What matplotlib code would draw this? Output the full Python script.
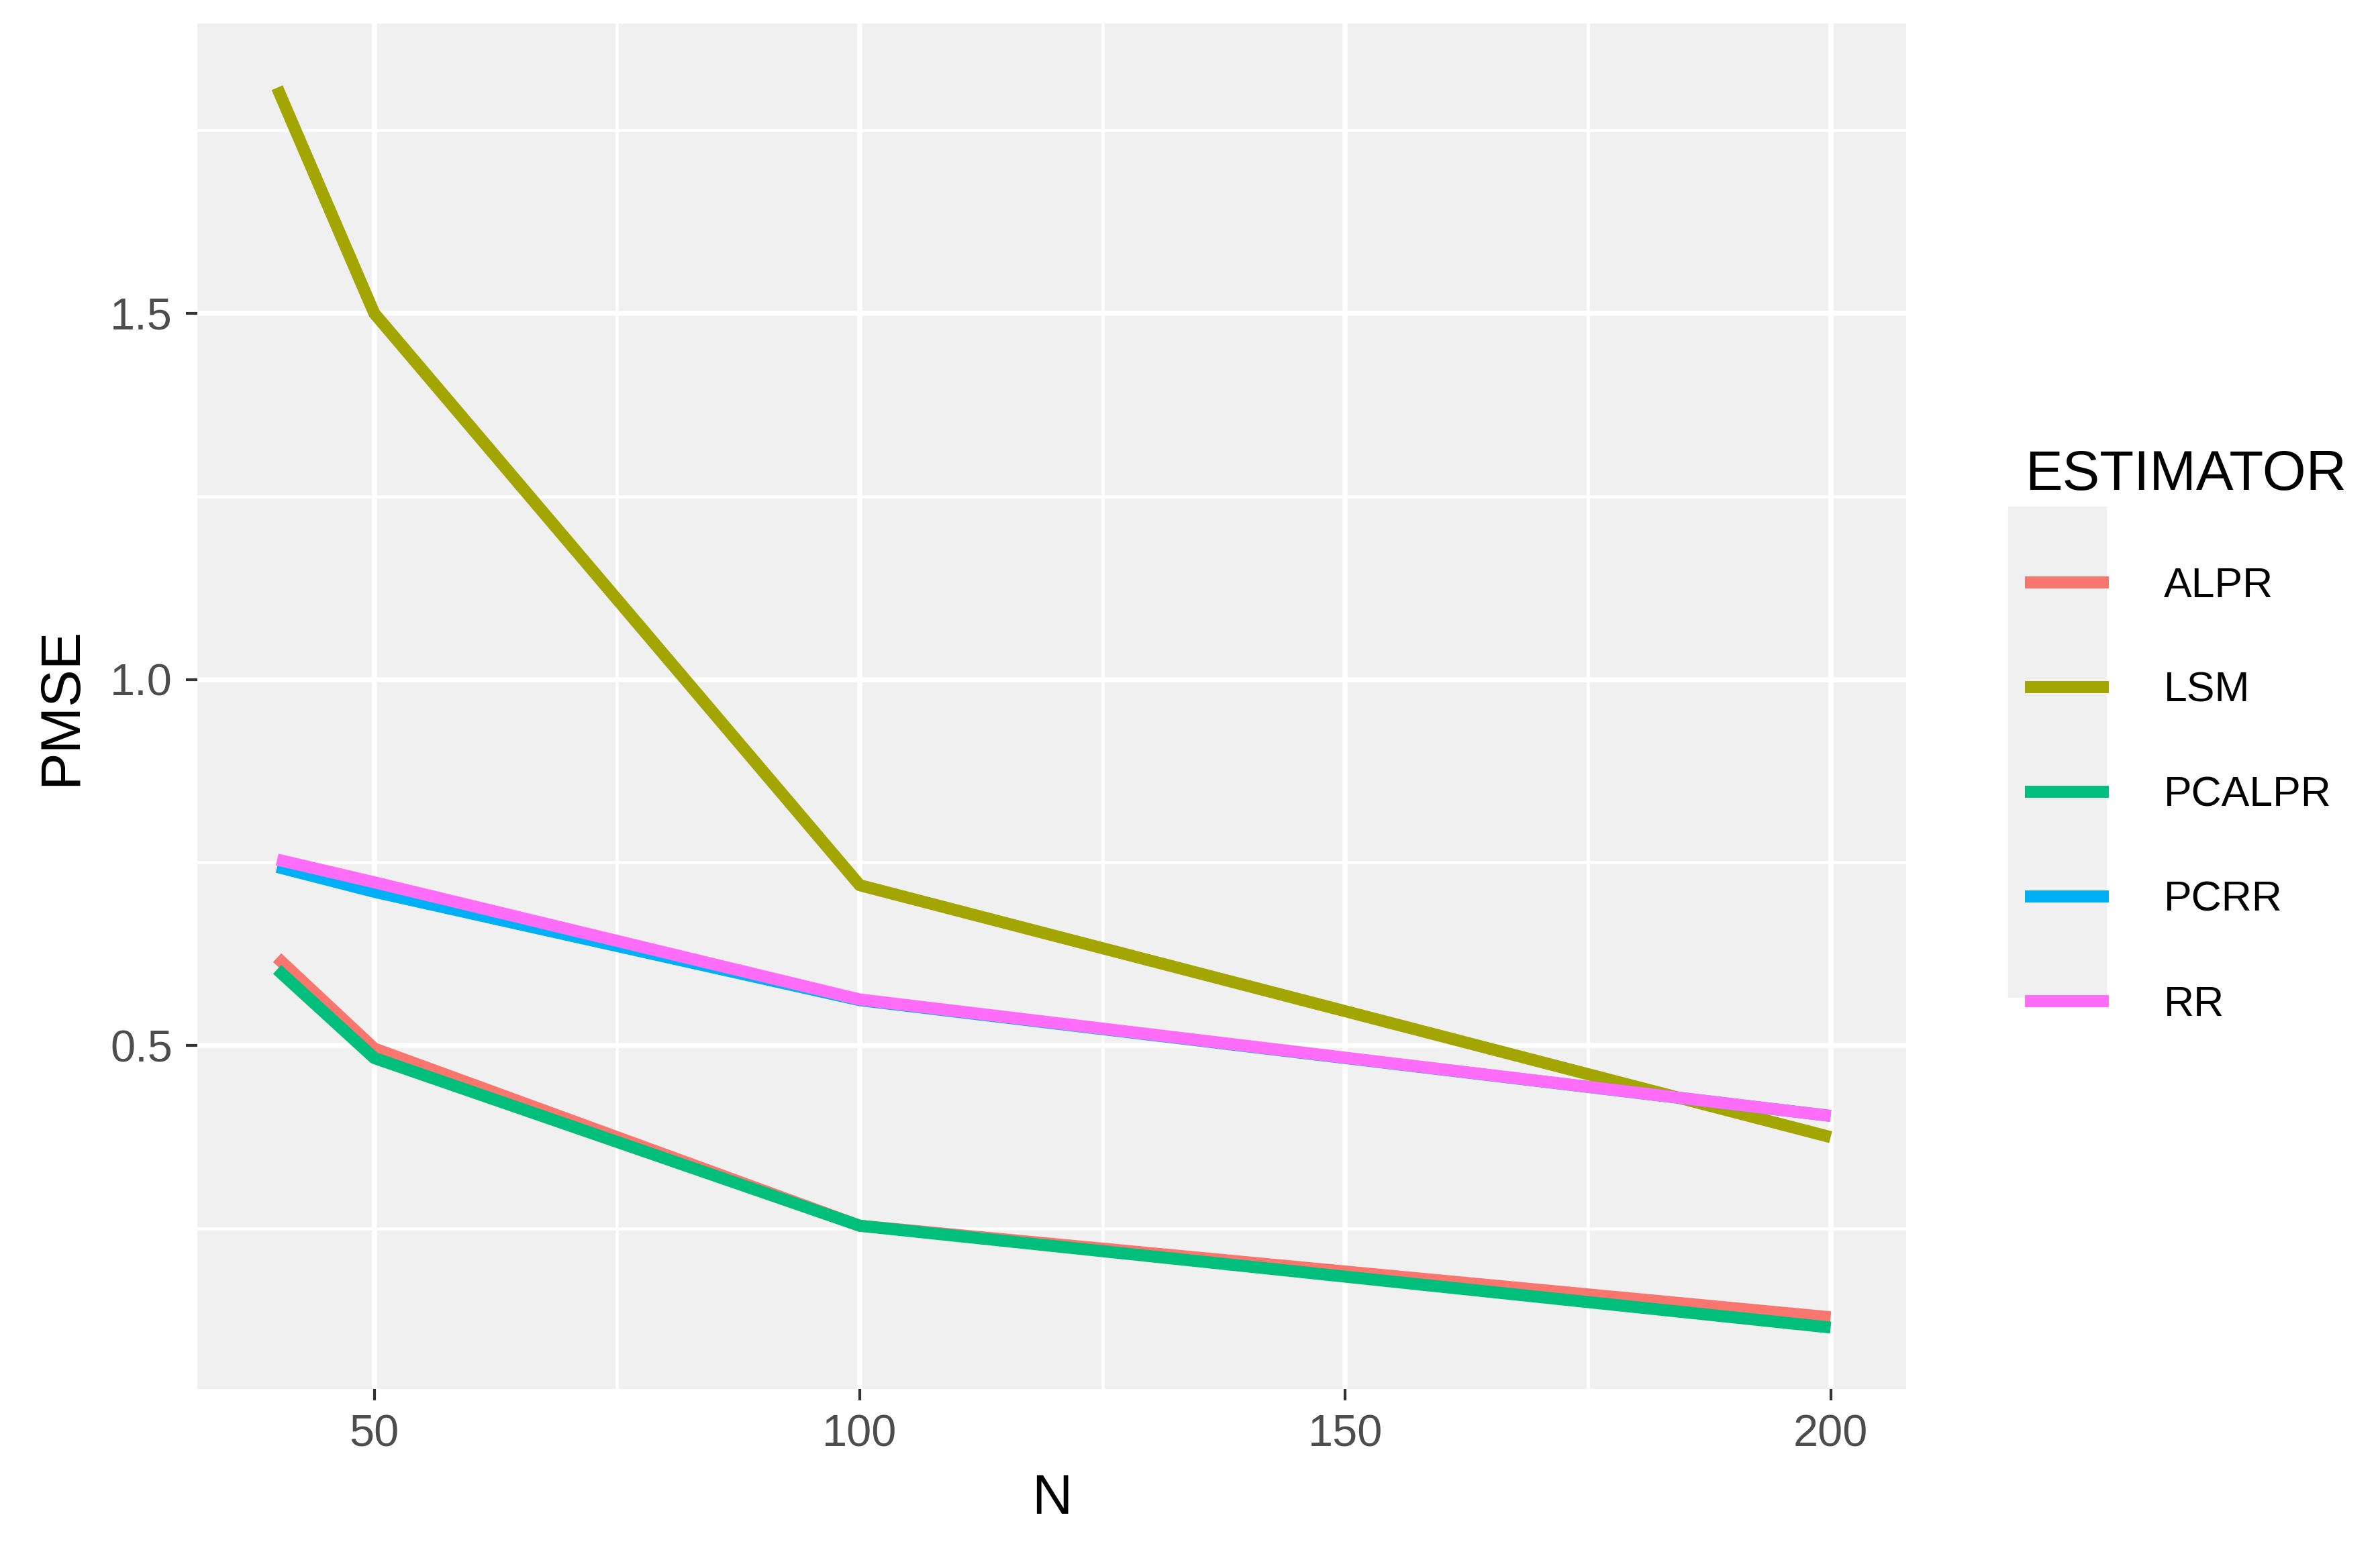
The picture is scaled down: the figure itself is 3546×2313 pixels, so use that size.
import matplotlib.pyplot as plt
from matplotlib.patches import Rectangle

plt.rcParams['font.family'] = ['Liberation Sans', 'DejaVu Sans']

N = [40, 50, 100, 200]
estimators = ['ALPR', 'LSM', 'PCALPR', 'PCRR', 'RR']
colors = ['#F8766D', '#A3A500', '#00BF7D', '#00B0F6', '#FF6CF7']
pmse = {
    'ALPR':   [0.620, 0.496, 0.254, 0.129],
    'LSM':    [1.808, 1.500, 0.719, 0.375],
    'PCALPR': [0.604, 0.483, 0.254, 0.115],
    'PCRR':   [0.744, 0.710, 0.562, 0.404],
    'RR':     [0.754, 0.723, 0.563, 0.404],
}

fig = plt.figure(figsize=(11.82, 7.71), dpi=300)
ax = fig.add_axes([0.083, 0.105, 0.718, 0.88])
ax.set_facecolor('#F0F0F0')

for name, c in zip(estimators, colors):
    ax.plot(N, pmse[name], color=c, lw=4.3, label=name, solid_capstyle='butt')

ax.set_xlim(31.8, 207.8)
ax.set_ylim(0.031, 1.896)
ax.set_xticks([50, 100, 150, 200])
ax.set_xticks([75, 125, 175], minor=True)
ax.set_yticks([0.5, 1.0, 1.5])
ax.set_yticks([0.25, 0.75, 1.25, 1.75], minor=True)
ax.grid(which='major', color='white', lw=1.8)
ax.grid(which='minor', color='white', lw=1.1)
ax.set_axisbelow(True)
for s in ax.spines.values():
    s.set_visible(False)
ax.tick_params(which='major', length=4, width=1, color='#333333', labelsize=16,
               labelcolor='#4D4D4D', pad=5)
ax.tick_params(which='minor', length=0)
ax.set_xlabel('N', fontsize=20, labelpad=6)
ax.set_ylabel('PMSE', fontsize=20, labelpad=8)

# grey key background like ggplot
fig.patches.append(Rectangle((1317/1560, 1 - 653/1017), 63/1560, 320/1017,
                             transform=fig.transFigure, color='#F0F0F0', zorder=0))
leg = fig.legend(loc='upper left', bbox_to_anchor=(0.835, 0.735), frameon=False,
                 title='ESTIMATOR', fontsize=15, title_fontsize=20,
                 handlelength=2.0, labelspacing=1.55, handletextpad=1.3)
leg._legend_box.align = 'left'

fig.savefig('out.png', dpi=300)
